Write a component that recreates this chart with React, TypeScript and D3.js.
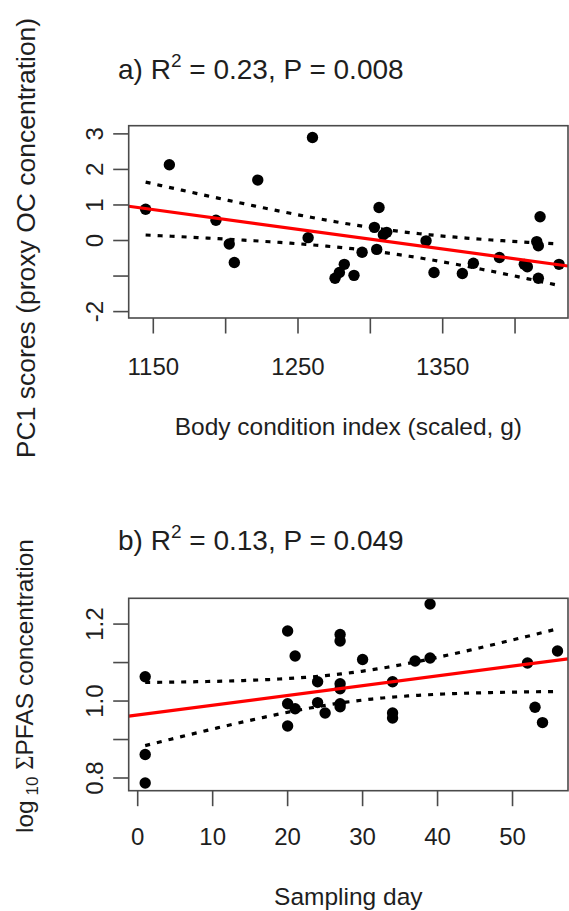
import React from 'react';
import * as d3 from 'd3';

// ---- Panel a data: body condition index vs PC1 scores ----
const bciX = [1144.7, 1161.1, 1193.3, 1202.5, 1206, 1222.2, 1257, 1260, 1275.6, 1278.6, 1282, 1288.7, 1294.3, 1302.8, 1304.4, 1306, 1309, 1311.3, 1338.5, 1344, 1363.6, 1371.2, 1389.2, 1406.4, 1408.5, 1415, 1416.1, 1416.1, 1417.3, 1430.4];
const pc1Y = [0.88, 2.13, 0.57, -0.1, -0.62, 1.7, 0.08, 2.9, -1.06, -0.9, -0.67, -0.98, -0.33, 0.37, -0.25, 0.93, 0.16, 0.23, -0.01, -0.9, -0.93, -0.64, -0.48, -0.67, -0.74, -0.03, -0.15, -1.06, 0.67, -0.67];

// ---- Panel b data: sampling day vs log10 sum PFAS ----
const dayX = [1, 1, 1, 20, 20, 20, 21, 21, 24, 24, 25, 27, 27, 27, 27, 27, 27, 30, 34, 34, 34, 37, 39, 39, 52, 53, 54, 56];
const pfasY = [1.063, 0.861, 0.787, 1.182, 0.993, 0.935, 1.117, 0.98, 1.05, 0.996, 0.969, 1.173, 1.156, 1.045, 1.032, 0.993, 0.985, 1.108, 1.05, 0.969, 0.956, 1.104, 1.252, 1.112, 1.099, 0.984, 0.944, 1.13];

// ---- ticks ----
const aXTicks = [1150, 1200, 1250, 1300, 1350, 1400];
const aXLabels = [1150, 1250, 1350];
const aYTicks = [-2, -1, 0, 1, 2, 3];
const aYLabels = [-2, 0, 1, 2, 3];
const bXTicks = [0, 10, 20, 30, 40, 50];
const bXLabels = [0, 10, 20, 30, 40, 50];
const bYTicks = [0.8, 0.9, 1.0, 1.1, 1.2];
const bYLabels = [0.8, 1.0, 1.2];

const FONT = "'Liberation Sans', Arial, Helvetica, sans-serif";
const AXIS = '#4a4a4a';
const TXT = '#1e1e1e';

function tQuant(df: number) {
  const z = 1.959964;
  const z3 = z * z * z, z5 = z3 * z * z, z7 = z5 * z * z;
  return z + (z3 + z) / (4 * df) + (5 * z5 + 16 * z3 + 3 * z) / (96 * df * df) +
    (3 * z7 + 19 * z5 + 17 * z3 - 15 * z) / (384 * df * df * df);
}

function linFit(xs: number[], ys: number[]) {
  const n = xs.length;
  const mx = d3.mean(xs)!, my = d3.mean(ys)!;
  let sxx = 0, sxy = 0;
  xs.forEach((x, i) => { sxx += (x - mx) ** 2; sxy += (x - mx) * (ys[i] - my); });
  const b = sxy / sxx, a = my - b * mx;
  let sse = 0;
  xs.forEach((x, i) => { sse += (ys[i] - (a + b * x)) ** 2; });
  const s = Math.sqrt(sse / (n - 2));
  const t = tQuant(n - 2);
  const hw = (x: number) => t * s * Math.sqrt(1 / n + (x - mx) ** 2 / sxx);
  return { a, b, hw };
}

type PanelProps = {
  xs: number[]; ys: number[];
  left: number; right: number; top: number; bottom: number;
  xDom: [number, number]; yDom: [number, number];
  xTicks: number[]; xLabels: number[]; yTicks: number[]; yLabels: number[];
  yFmt: (v: number) => string;
  prefix: string; r2: string; p: string;
  titleY: number; xLabY: number; xTitleY: number; xTitle: string;
  yTitle: React.ReactNode; yTitleX: number; yTitleCy: number; yTitleSize: number;
};

function Panel(pp: PanelProps) {
  const x = d3.scaleLinear().domain(pp.xDom).range([pp.left, pp.right]);
  const y = d3.scaleLinear().domain(pp.yDom).range([pp.bottom, pp.top]);
  const f = linFit(pp.xs, pp.ys);
  const [xmin, xmax] = d3.extent(pp.xs) as [number, number];
  const grid = d3.range(0, 81).map(i => xmin + (xmax - xmin) * i / 80);
  const upper = d3.line<number>().x(v => x(v)).y(v => y(f.a + f.b * v + f.hw(v)))(grid)!;
  const lower = d3.line<number>().x(v => x(v)).y(v => y(f.a + f.b * v - f.hw(v)))(grid)!;
  const tick = 15.5;
  const clipId = 'clip' + pp.prefix.replace(/\W/g, '');
  return (
    <g>
      <defs>
        <clipPath id={clipId}>
          <rect x={pp.left} y={pp.top} width={pp.right - pp.left} height={pp.bottom - pp.top} />
        </clipPath>
      </defs>
      {/* title */}
      <text x={118} y={pp.titleY} fontFamily={FONT} fontSize={28} fill={TXT}>
        <tspan>{pp.prefix} R</tspan>
        <tspan fontSize={19} dy={-12}>2</tspan>
        <tspan dy={12}>{` = ${pp.r2}, P = ${pp.p}`}</tspan>
      </text>
      {/* CI bands */}
      <path d={upper} fill="none" stroke="#000" strokeWidth={3.2} strokeDasharray="5 7" />
      <path d={lower} fill="none" stroke="#000" strokeWidth={3.2} strokeDasharray="5 7" />
      {/* points */}
      {pp.xs.map((v, i) => (
        <circle key={i} cx={x(v)} cy={y(pp.ys[i])} r={5.7} fill="#000" />
      ))}
      {/* regression line */}
      <line clipPath={`url(#${clipId})`}
        x1={x(pp.xDom[0])} y1={y(f.a + f.b * pp.xDom[0])}
        x2={x(pp.xDom[1])} y2={y(f.a + f.b * pp.xDom[1])}
        stroke="#ff0000" strokeWidth={3.2} />
      {/* box */}
      <rect x={pp.left} y={pp.top} width={pp.right - pp.left} height={pp.bottom - pp.top}
        fill="none" stroke={AXIS} strokeWidth={1.6} />
      {/* x ticks */}
      {pp.xTicks.map(t => (
        <line key={'xt' + t} x1={x(t)} x2={x(t)} y1={pp.bottom} y2={pp.bottom + tick} stroke={AXIS} strokeWidth={1.6} />
      ))}
      {pp.xLabels.map(t => (
        <text key={'xl' + t} x={x(t)} y={pp.xLabY} textAnchor="middle" fontFamily={FONT} fontSize={24} fill={TXT}>{String(t)}</text>
      ))}
      {/* y ticks */}
      {pp.yTicks.map(t => (
        <line key={'yt' + t} x1={pp.left - tick} x2={pp.left} y1={y(t)} y2={y(t)} stroke={AXIS} strokeWidth={1.6} />
      ))}
      {pp.yLabels.map(t => (
        <text key={'yl' + t} transform={`translate(103,${y(t)}) rotate(-90)`} textAnchor="middle"
          fontFamily={FONT} fontSize={24} fill={TXT}>{pp.yFmt(t)}</text>
      ))}
      {/* axis titles */}
      <text x={(pp.left + pp.right) / 2} y={pp.xTitleY} textAnchor="middle" fontFamily={FONT} fontSize={24.5} fill={TXT}>{pp.xTitle}</text>
      <text transform={`translate(${pp.yTitleX},${pp.yTitleCy}) rotate(-90)`} textAnchor="middle"
        fontFamily={FONT} fontSize={pp.yTitleSize} fill={TXT}>{pp.yTitle}</text>
    </g>
  );
}

export default function App() {
  return (
    <svg width={569} height={911} style={{ position: 'absolute', left: 0, top: 0, background: '#fff' }}>
      <rect x={0} y={0} width={569} height={911} fill="#fff" />
      <Panel xs={bciX} ys={pc1Y}
        left={128.7} right={568} top={125.7} bottom={318}
        xDom={[1133, 1436.6]} yDom={[-2.18, 3.23]}
        xTicks={aXTicks} xLabels={aXLabels} yTicks={aYTicks} yLabels={aYLabels}
        yFmt={v => String(v)}
        prefix="a)" r2="0.23" p="0.008"
        titleY={79} xLabY={375} xTitleY={435} xTitle="Body condition index (scaled, g)"
        yTitle="PC1 scores (proxy OC concentration)" yTitleX={35} yTitleCy={238} yTitleSize={26.5} />
      <Panel xs={dayX} ys={pfasY}
        left={128.7} right={568} top={598.3} bottom={790.7}
        xDom={[-1.2, 57.4]} yDom={[0.767, 1.267]}
        xTicks={bXTicks} xLabels={bXLabels} yTicks={bYTicks} yLabels={bYLabels}
        yFmt={v => d3.format('.1f')(v)}
        prefix="b)" r2="0.13" p="0.049"
        titleY={550} xLabY={845} xTitleY={905} xTitle="Sampling day"
        yTitle={<>
          <tspan>log</tspan>
          <tspan fontSize={17} dy={5}>{' 10'}</tspan>
          <tspan dy={-5}>{' '}</tspan>
          <tspan fontFamily="'Liberation Serif', 'DejaVu Serif', serif">Σ</tspan>
          <tspan>PFAS concentration</tspan>
        </>}
        yTitleX={33} yTitleCy={686} yTitleSize={24.5} />
    </svg>
  );
}
